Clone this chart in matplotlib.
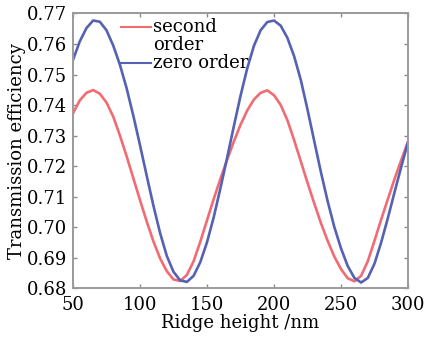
import numpy as np
import matplotlib
matplotlib.use("Agg")
import matplotlib.pyplot as plt

# ridge height sweep (nm)
height = [50, 55, 60, 65, 70, 75, 80, 85, 90, 95,
          100, 105, 110, 115, 120, 125, 130, 135, 140, 145,
          150, 155, 160, 165, 170, 175, 180, 185, 190, 195,
          200, 205, 210, 215, 220, 225, 230, 235, 240, 245,
          250, 255, 260, 265, 270, 275, 280, 285, 290, 295, 300]

# transmission efficiency, zero order
zero_order = [0.7548, 0.7608, 0.7652, 0.7677, 0.7673, 0.7645, 0.7595, 0.7532, 0.7455, 0.7365,
              0.7268, 0.7168, 0.7070, 0.6980, 0.6905, 0.6853, 0.6825, 0.6820, 0.6840, 0.6885,
              0.6950, 0.7032, 0.7127, 0.7227, 0.7330, 0.7430, 0.7520, 0.7594, 0.7645, 0.7672,
              0.7677, 0.7660, 0.7620, 0.7560, 0.7482, 0.7385, 0.7282, 0.7180, 0.7085, 0.7000,
              0.6930, 0.6872, 0.6833, 0.6818, 0.6833, 0.6880, 0.6950, 0.7030, 0.7115, 0.7198, 0.7278]

# transmission efficiency, second order
second_order = [0.7373, 0.7415, 0.7440, 0.7449, 0.7437, 0.7408, 0.7362, 0.7300, 0.7232, 0.7160,
                0.7088, 0.7018, 0.6953, 0.6897, 0.6855, 0.6828, 0.6823, 0.6843, 0.6888, 0.6952,
                0.7022, 0.7092, 0.7158, 0.7220, 0.7280, 0.7335, 0.7382, 0.7418, 0.7440, 0.7448,
                0.7432, 0.7400, 0.7350, 0.7285, 0.7215, 0.7145, 0.7078, 0.7013, 0.6955, 0.6903,
                0.6862, 0.6832, 0.6822, 0.6840, 0.6888, 0.6955, 0.7025, 0.7092, 0.7158, 0.7220, 0.7280]

xticks = [50, 100, 150, 200, 250, 300]
yticks = [0.68, 0.69, 0.70, 0.71, 0.72, 0.73, 0.74, 0.75, 0.76, 0.77]

red = "#f26b73"
blue = "#5562b4"

plt.rcParams.update({
    "font.family": "DejaVu Serif",
    "font.size": 13,
})

fig = plt.figure(figsize=(4.28, 3.40), dpi=100)
ax = fig.add_axes([0.1706, 0.1529, 0.7827, 0.8074])

ax.plot(height, second_order, color=red, lw=1.9, solid_joinstyle="round")
ax.plot(height, zero_order, color=blue, lw=1.9, solid_joinstyle="round")

ax.set_xlim(50, 300)
ax.set_ylim(0.68, 0.77)
ax.set_xticks(xticks)
ax.set_yticks(yticks)
ax.set_yticklabels(["%.2f" % v for v in yticks])

for s in ax.spines.values():
    s.set_color("#9a9a9a")
    s.set_linewidth(1.4)
ax.tick_params(direction="in", length=3, width=1.0, color="#8a8a8a",
               top=True, right=True, labelsize=13)
ax.tick_params(axis="x", pad=6)
ax.tick_params(axis="y", pad=4)

ax.set_xlabel("Ridge height /nm", fontsize=13, labelpad=0)
ax.set_ylabel("Transmission efficiency", fontsize=13, labelpad=1)

# hand-placed legend without a frame
tr = ax.transAxes
ax.plot([0.143, 0.233], [0.952, 0.952], color=red, lw=1.5, transform=tr, clip_on=False)
ax.plot([0.143, 0.233], [0.819, 0.819], color=blue, lw=1.5, transform=tr, clip_on=False)
ax.text(0.240, 0.934, "second", transform=tr, fontsize=13, va="baseline")
ax.text(0.240, 0.867, "order", transform=tr, fontsize=13, va="baseline")
ax.text(0.240, 0.800, "zero order", transform=tr, fontsize=13, va="baseline")

fig.savefig("out.png", dpi=100)
